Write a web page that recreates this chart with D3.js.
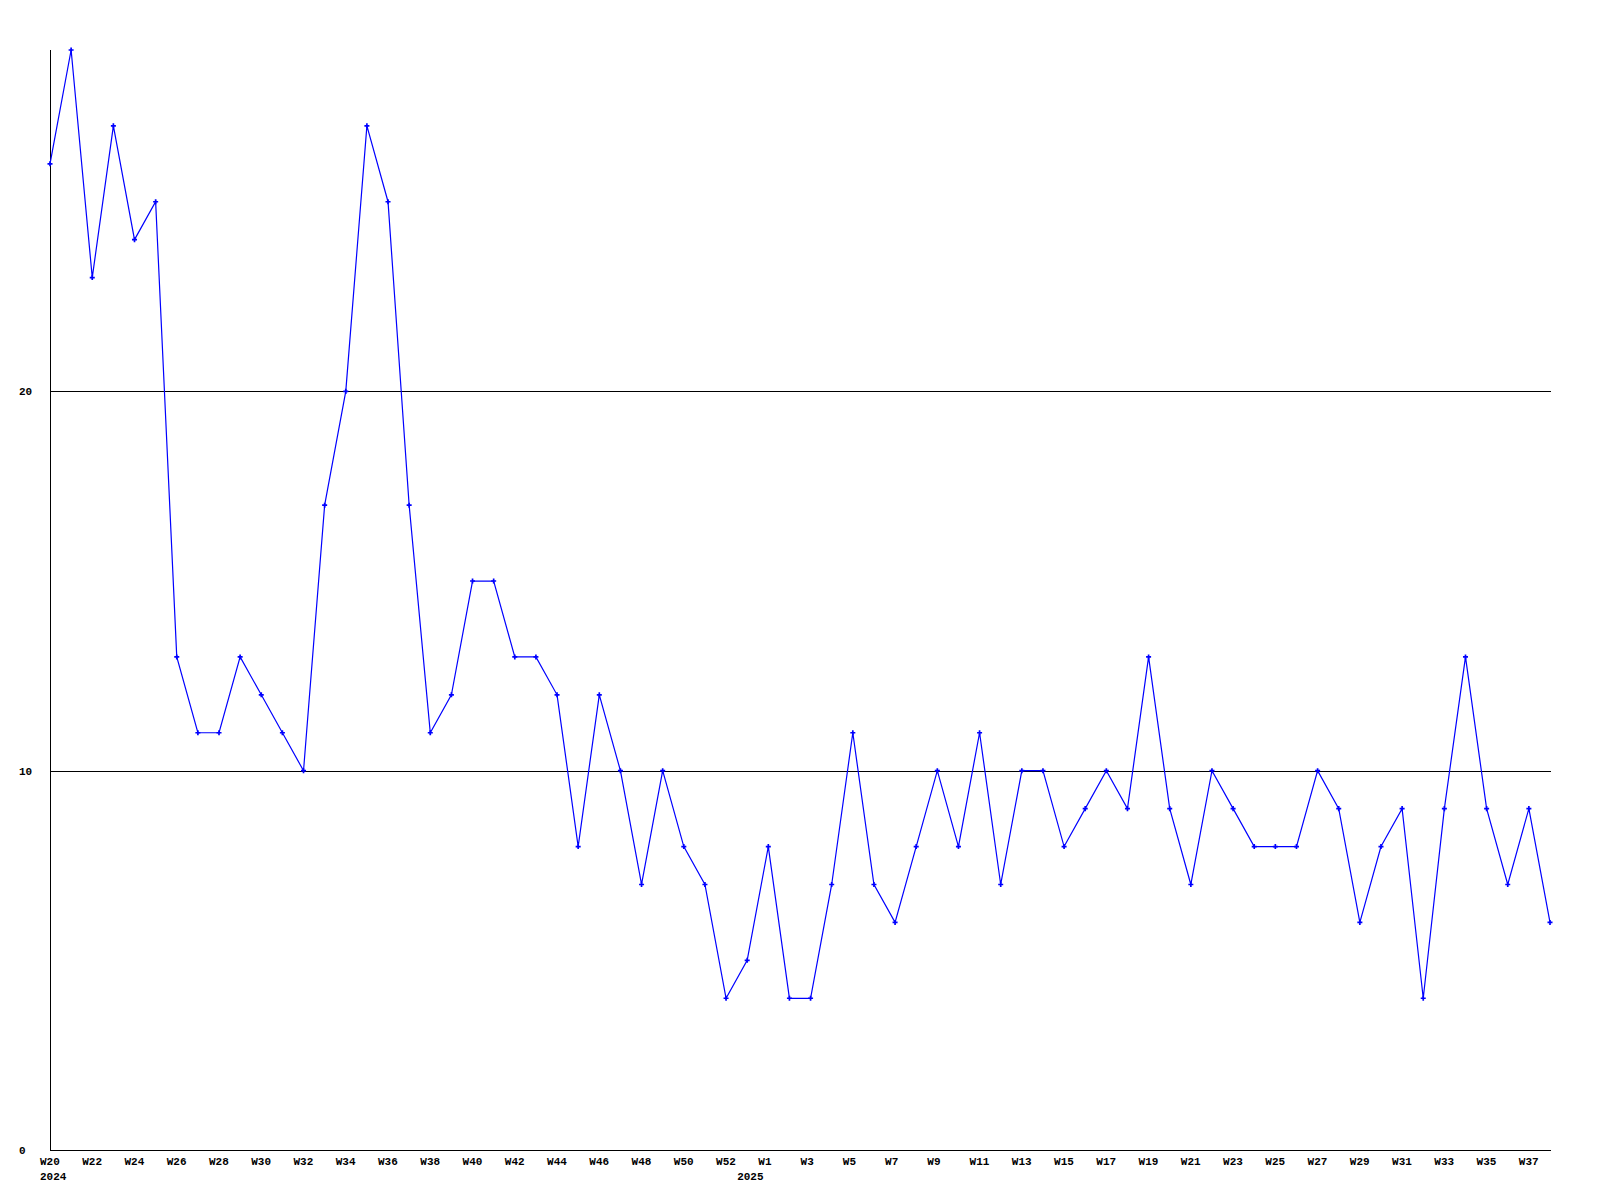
<!DOCTYPE html>
<html>
<head>
<meta charset="utf-8">
<script src="https://cdn.jsdelivr.net/npm/d3@7"></script>
<style>
  html, body { margin: 0; padding: 0; background: #fff; }
  text { font-family: "Liberation Mono", "DejaVu Sans Mono", monospace; font-weight: bold; font-size: 11px; fill: #000; }
</style>
</head>
<body>
<div id="chart"></div>
<script>
// weekly counts, W20 2024 .. W38 2025
var WEEKS = ["W20","W21","W22","W23","W24","W25","W26","W27","W28","W29","W30","W31","W32","W33","W34","W35","W36",
    "W37","W38","W39","W40","W41","W42","W43","W44","W45","W46","W47","W48","W49","W50","W51","W52","W53",
    "W1","W2","W3","W4","W5","W6","W7","W8","W9","W10","W11","W12","W13","W14","W15","W16","W17","W18","W19",
    "W20","W21","W22","W23","W24","W25","W26","W27","W28","W29","W30","W31","W32","W33","W34","W35","W36","W37","W38"];
var VALUES = [26,29,23,27,24,25,13,11,11,13,12,11,10,17,20,27,25,17,11,12,15,15,13,13,12,8,12,10,7,10,8,7,4,5,
    8,4,4,7,11,7,6,8,10,8,11,7,10,10,8,9,10,9,13,9,7,10,9,8,8,8,10,9,6,8,9,4,9,13,9,7,9,6];
var FIRST_WEEK_START = new Date(2024, 4, 13);   // monday of W20 2024
var YEARS = [2024, 2025];
var Y_TICKS = [0, 10, 20];
var Y_MAX = 29;

var WIDTH = 1600, HEIGHT = 1200,
    LEFT = 50, RIGHT = 1550, TOP = 50, BOTTOM = 1150,
    LABEL_SHIFT = 10;

var dates = WEEKS.map(function(w, i){ return d3.timeDay.offset(FIRST_WEEK_START, i * 7); });

var x = d3.scaleTime().domain([dates[0], dates[dates.length - 1]]).range([LEFT, RIGHT]);
var y = d3.scaleLinear().domain([0, Y_MAX]).range([BOTTOM, TOP]);

var svg = d3.select("#chart").append("svg")
    .attr("width", WIDTH)
    .attr("height", HEIGHT);

// horizontal grid lines
svg.append("g").selectAll("line")
    .data(Y_TICKS.filter(function(d){ return d > 0; }))
    .enter().append("line")
    .attr("x1", LEFT).attr("x2", RIGHT + 1)
    .attr("y1", function(d){ return Math.round(y(d)) + 0.5; })
    .attr("y2", function(d){ return Math.round(y(d)) + 0.5; })
    .attr("stroke", "#000").attr("stroke-width", 1)
    .attr("shape-rendering", "crispEdges");

// axes lines
svg.append("line")
    .attr("x1", LEFT + 0.5).attr("x2", LEFT + 0.5)
    .attr("y1", TOP).attr("y2", BOTTOM + 1)
    .attr("stroke", "#000").attr("shape-rendering", "crispEdges");
svg.append("line")
    .attr("x1", LEFT).attr("x2", RIGHT + 1)
    .attr("y1", BOTTOM + 0.5).attr("y2", BOTTOM + 0.5)
    .attr("stroke", "#000").attr("shape-rendering", "crispEdges");

// y labels
svg.append("g").selectAll("text")
    .data(Y_TICKS)
    .enter().append("text")
    .attr("x", 19)
    .attr("y", function(d){ return y(d); })
    .attr("dy", "0.35em")
    .text(function(d){ return d; });

// week labels, every other week, starting just left of the point
svg.append("g").selectAll("text")
    .data(WEEKS.map(function(w, i){ return {w: w, d: dates[i], i: i}; })
        .filter(function(d){ return d.i % 2 === 0; }))
    .enter().append("text")
    .attr("x", function(d){ return x(d.d) - LABEL_SHIFT; })
    .attr("y", BOTTOM + 15)
    .text(function(d){ return d.w; });

// year labels, at the week holding jan 1 (or the first week)
svg.append("g").selectAll("text")
    .data(YEARS)
    .enter().append("text")
    .attr("x", function(d){
        var wk = d3.timeMonday.floor(new Date(d, 0, 1));
        if (wk < x.domain()[0]) wk = x.domain()[0];
        return x(wk) - LABEL_SHIFT;
    })
    .attr("y", BOTTOM + 30)
    .text(function(d){ return d; });

// series line
var line = d3.line()
    .x(function(d, i){ return x(dates[i]); })
    .y(function(d){ return y(d); });

svg.append("path")
    .datum(VALUES)
    .attr("d", line)
    .attr("fill", "none")
    .attr("stroke", "#0000ff")
    .attr("stroke-width", 1.2);

svg.append("g").selectAll("path")
    .data(VALUES)
    .enter().append("path")
    .attr("transform", function(d, i){ return "translate(" + x(dates[i]) + "," + y(d) + ")"; })
    .attr("d", d3.symbol().type(d3.symbolCross).size(14))
    .attr("fill", "#0000ff");
</script>
</body>
</html>
